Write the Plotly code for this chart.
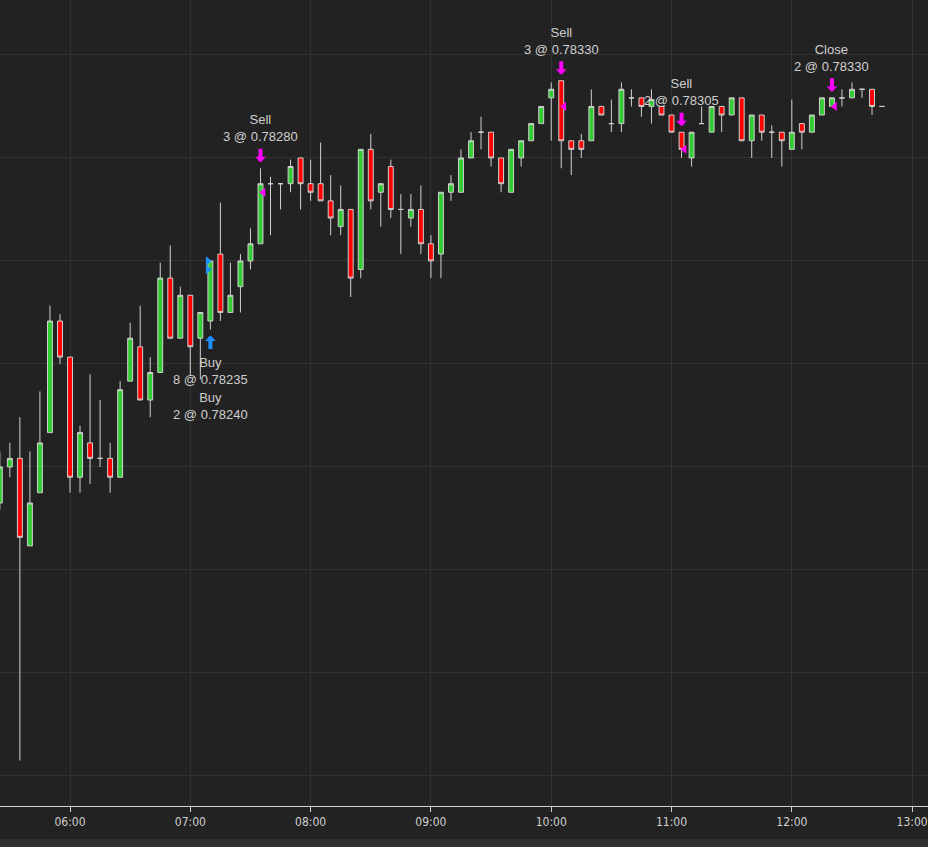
import pandas as pd
import plotly.graph_objects as go

# 5 minute bars
day = '2023-05-12 '
bar_times = pd.date_range(day + '05:25', day + '12:45', freq='5min')

opens = [0.78099, 0.78120, 0.78125, 0.78074, 0.78105, 0.78140, 0.78205, 0.78184, 0.78114, 0.78134,
         0.78125, 0.78125, 0.78114, 0.78170, 0.78190, 0.78159, 0.78175, 0.78230, 0.78195, 0.78220,
         0.78195, 0.78205, 0.78244, 0.78210, 0.78225, 0.78240, 0.78250, 0.78285, 0.78285, 0.78285,
         0.78300, 0.78285, 0.78285, 0.78275, 0.78260, 0.78270, 0.78235, 0.78305, 0.78280, 0.78295,
         0.78270, 0.78265, 0.78270, 0.78250, 0.78244, 0.78280, 0.78280, 0.78300, 0.78315, 0.78315,
         0.78300, 0.78280, 0.78300, 0.78310, 0.78320, 0.78335, 0.78345, 0.78310, 0.78310, 0.78310,
         0.78330, 0.78320, 0.78320, 0.78335, 0.78335, 0.78330, 0.78330, 0.78325, 0.78315, 0.78300,
         0.78320, 0.78315, 0.78330, 0.78325, 0.78335, 0.78310, 0.78325, 0.78315, 0.78315, 0.78305,
         0.78320, 0.78315, 0.78325, 0.78330, 0.78335, 0.78335, 0.78340, 0.78340, 0.78330]
highs = [0.78129, 0.78134, 0.78149, 0.78129, 0.78164, 0.78214, 0.78209, 0.78184, 0.78144, 0.78174,
         0.78159, 0.78134, 0.78170, 0.78204, 0.78214, 0.78184, 0.78239, 0.78249, 0.78225, 0.78220,
         0.78210, 0.78240, 0.78274, 0.78239, 0.78244, 0.78259, 0.78294, 0.78289, 0.78285, 0.78299,
         0.78300, 0.78299, 0.78309, 0.78290, 0.78284, 0.78270, 0.78305, 0.78314, 0.78285, 0.78299,
         0.78279, 0.78279, 0.78284, 0.78255, 0.78280, 0.78290, 0.78305, 0.78315, 0.78324, 0.78315,
         0.78300, 0.78305, 0.78310, 0.78320, 0.78330, 0.78344, 0.78345, 0.78310, 0.78314, 0.78340,
         0.78330, 0.78334, 0.78344, 0.78340, 0.78335, 0.78340, 0.78330, 0.78325, 0.78315, 0.78315,
         0.78330, 0.78330, 0.78330, 0.78335, 0.78335, 0.78325, 0.78325, 0.78319, 0.78315, 0.78334,
         0.78320, 0.78325, 0.78335, 0.78335, 0.78340, 0.78344, 0.78340, 0.78340, 0.78330]
lows = [0.78095, 0.78114, 0.77949, 0.78074, 0.78105, 0.78140, 0.78180, 0.78105, 0.78105, 0.78110,
        0.78120, 0.78105, 0.78114, 0.78170, 0.78159, 0.78149, 0.78175, 0.78195, 0.78195, 0.78173,
        0.78171, 0.78200, 0.78205, 0.78210, 0.78210, 0.78235, 0.78250, 0.78255, 0.78270, 0.78280,
        0.78270, 0.78275, 0.78275, 0.78255, 0.78255, 0.78219, 0.78230, 0.78270, 0.78260, 0.78265,
        0.78244, 0.78260, 0.78244, 0.78230, 0.78230, 0.78275, 0.78280, 0.78300, 0.78305, 0.78295,
        0.78280, 0.78280, 0.78295, 0.78310, 0.78320, 0.78310, 0.78294, 0.78290, 0.78300, 0.78310,
        0.78325, 0.78315, 0.78315, 0.78330, 0.78324, 0.78320, 0.78325, 0.78315, 0.78300, 0.78295,
        0.78320, 0.78315, 0.78315, 0.78325, 0.78310, 0.78300, 0.78310, 0.78300, 0.78295, 0.78305,
        0.78305, 0.78315, 0.78325, 0.78330, 0.78330, 0.78335, 0.78335, 0.78325, 0.78330]
closes = [0.78120, 0.78125, 0.78079, 0.78099, 0.78134, 0.78205, 0.78184, 0.78114, 0.78140, 0.78125,
          0.78125, 0.78114, 0.78165, 0.78195, 0.78159, 0.78175, 0.78230, 0.78195, 0.78220, 0.78190,
          0.78210, 0.78240, 0.78210, 0.78220, 0.78240, 0.78250, 0.78285, 0.78285, 0.78285, 0.78295,
          0.78285, 0.78280, 0.78275, 0.78265, 0.78270, 0.78230, 0.78305, 0.78275, 0.78285, 0.78270,
          0.78270, 0.78270, 0.78250, 0.78240, 0.78280, 0.78285, 0.78300, 0.78310, 0.78315, 0.78300,
          0.78285, 0.78305, 0.78310, 0.78320, 0.78330, 0.78340, 0.78310, 0.78305, 0.78305, 0.78330,
          0.78325, 0.78320, 0.78340, 0.78335, 0.78330, 0.78334, 0.78325, 0.78315, 0.78305, 0.78315,
          0.78320, 0.78330, 0.78325, 0.78335, 0.78310, 0.78325, 0.78315, 0.78315, 0.78310, 0.78315,
          0.78315, 0.78325, 0.78335, 0.78335, 0.78335, 0.78340, 0.78340, 0.78330, 0.78330]

# executions
trade_bars = ['07:10', '07:10', '07:35', '10:05', '11:05', '12:20']
trade_sides = ['Buy', 'Buy', 'Sell', 'Sell', 'Sell', 'Close']
trade_qty = [8, 2, 3, 3, 2, 2]
trade_prices = [0.78235, 0.78240, 0.78280, 0.78330, 0.78305, 0.78330]

bg = '#222222'
grid = '#323232'
axis_col = '#d0d0d0'
text_col = '#cfcfcf'
buy_col = '#1e90ff'
sell_col = '#ff00ff'

df = pd.DataFrame({'open': opens, 'high': highs, 'low': lows, 'close': closes}, index=bar_times)

fig = go.Figure()

fig.add_trace(go.Candlestick(x=df.index, open=df['open'], high=df['high'], low=df['low'], close=df['close'],
                             increasing=dict(line=dict(color=axis_col, width=1), fillcolor='#32cd32'),
                             decreasing=dict(line=dict(color=axis_col, width=1), fillcolor='#ff0000'),
                             whiskerwidth=0, showlegend=False))

buy_t, buy_p, sell_t, sell_p = [], [], [], []
annotations = []
stack = {}
for t, side, qty, price in zip(trade_bars, trade_sides, trade_qty, trade_prices):
    ts = pd.Timestamp(day + t)
    bar = df.loc[ts]
    label = f'{side}<br>{qty} @ {price:.5f}'
    n = stack.get(ts, 0)
    stack[ts] = n + 1
    if side == 'Buy':
        buy_t.append(ts - pd.Timedelta(seconds=75))
        buy_p.append(price)
        if n == 0:
            annotations.append(dict(x=ts, y=bar['low'], yshift=-6, ax=0, ay=15, text='', showarrow=True,
                                    arrowhead=1, arrowwidth=4, arrowsize=0.45, arrowcolor=buy_col))
        annotations.append(dict(x=ts, y=bar['low'], yshift=-23 - 35 * n, yanchor='top', text=label,
                                showarrow=False, font=dict(color=text_col, size=13)))
    else:
        sell_t.append(ts + pd.Timedelta(seconds=85))
        sell_p.append(price)
        annotations.append(dict(x=ts, y=bar['high'], yshift=6, ax=0, ay=-15, text='', showarrow=True,
                                arrowhead=1, arrowwidth=4, arrowsize=0.45, arrowcolor=sell_col))
        annotations.append(dict(x=ts, y=bar['high'], yshift=22, yanchor='bottom', text=label,
                                showarrow=False, font=dict(color=text_col, size=13)))

fig.add_trace(go.Scatter(x=buy_t, y=buy_p, mode='markers', showlegend=False, hoverinfo='skip',
                         marker=dict(symbol='triangle-right', size=8, color=buy_col)))
fig.add_trace(go.Scatter(x=sell_t, y=sell_p, mode='markers', showlegend=False, hoverinfo='skip',
                         marker=dict(symbol='triangle-left', size=8, color=sell_col)))

fig.update_layout(
    width=928, height=847,
    margin=dict(l=0, r=0, t=0, b=41),
    paper_bgcolor=bg, plot_bgcolor=bg,
    font=dict(family='Arial, Liberation Sans, sans-serif', color=text_col),
    annotations=annotations,
    shapes=[dict(type='rect', xref='paper', yref='paper', x0=0, x1=1, y0=-41 / 806, y1=-33 / 806,
                 fillcolor='#2f2f2f', line=dict(width=0), layer='below')],
    hovermode=False,
)

fig.update_xaxes(type='date', range=[day + '05:25:05', day + '13:07:55'],
                 rangeslider=dict(visible=False),
                 dtick=3600000, tickformat='%H:%M',
                 showgrid=True, gridcolor=grid, gridwidth=1, zeroline=False,
                 showline=True, linecolor=axis_col, linewidth=1,
                 ticks='outside', ticklen=5, tickcolor=axis_col,
                 tickfont=dict(family='Liberation Sans Narrow, DejaVu Sans Condensed, Arial Narrow, sans-serif',
                               size=12, color=text_col),
                 automargin=False)
fig.update_yaxes(range=[0.779225, 0.783920], tick0=0.78, dtick=0.0006,
                 showgrid=True, gridcolor=grid, gridwidth=1, zeroline=False,
                 showticklabels=False, showline=False, automargin=False)

# page has a default 8px body margin; drop it so the chart fills the window
fig.write_html("out.html", config={'displayModeBar': False},
               post_script="document.body.style.margin='0';document.body.style.background='#222222';")
